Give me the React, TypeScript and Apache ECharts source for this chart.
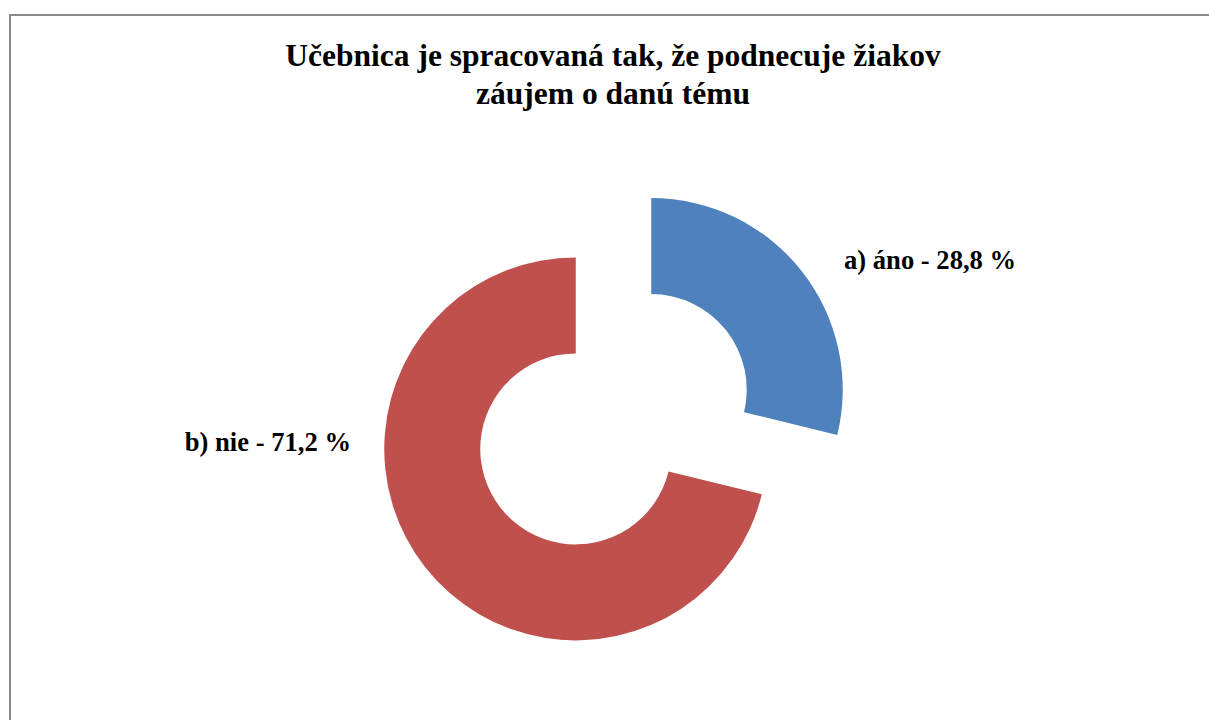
import React, { useEffect, useRef } from 'react';
import * as echarts from 'echarts';

const TITLE_LINES = ['Učebnica je spracovaná tak, že podnecuje žiakov', 'záujem o danú tému'];
const CATEGORIES = ['a) áno', 'b) nie'];
const VALUES = [28.8, 71.2];
const COLORS = ['#4F81BD', '#C0504D'];

const FONT = "'Liberation Serif', 'Times New Roman', serif";

const labelText = (i: number) => `${CATEGORIES[i]} - ${String(VALUES[i]).replace('.', ',')} %`;

export default function App() {
  const ref = useRef<HTMLDivElement>(null);
  useEffect(() => {
    const el = ref.current;
    if (!el) return;
    const chart = echarts.init(el, null, { renderer: 'svg' });
    const labelStyle = {
      fontFamily: FONT,
      fontWeight: 'bold',
      fontSize: 26.6,
      fill: '#000000',
      verticalAlign: 'middle',
    };
    chart.setOption({
      animation: false,
      backgroundColor: '#ffffff',
      title: {
        text: TITLE_LINES.join('\n'),
        left: 613,
        top: 36,
        padding: 0,
        textAlign: 'center',
        textStyle: {
          fontFamily: FONT,
          fontWeight: 'bold',
          fontSize: 31.5,
          lineHeight: 38,
          color: '#000000',
        },
      },
      graphic: [
        {
          type: 'rect',
          silent: true,
          z: -1,
          shape: { x: 10, y: 15, width: 1240, height: 740 },
          style: { fill: 'none', stroke: '#898989', lineWidth: 2 },
        },
        {
          type: 'text',
          silent: true,
          x: 844,
          y: 260,
          style: { ...labelStyle, text: labelText(0), align: 'left' },
        },
        {
          type: 'text',
          silent: true,
          x: 351,
          y: 442,
          style: { ...labelStyle, text: labelText(1), align: 'right' },
        },
      ],
      series: [
        {
          type: 'pie',
          center: [613.5, 419.25],
          radius: [95.5, 191.5],
          startAngle: 90,
          clockwise: true,
          selectedMode: 'multiple',
          selectedOffset: 48,
          avoidLabelOverlap: false,
          emphasis: { disabled: true },
          label: { show: false },
          labelLine: { show: false },
          data: CATEGORIES.map((name, i) => ({
            name,
            value: VALUES[i],
            selected: true,
            itemStyle: { color: COLORS[i], borderWidth: 0 },
            select: { itemStyle: { color: COLORS[i], borderWidth: 0 } },
          })),
        },
      ],
    });
    return () => chart.dispose();
  }, []);
  return (
    <div
      ref={ref}
      style={{ position: 'fixed', left: 0, top: 0, width: 1209, height: 720 }}
    />
  );
}
